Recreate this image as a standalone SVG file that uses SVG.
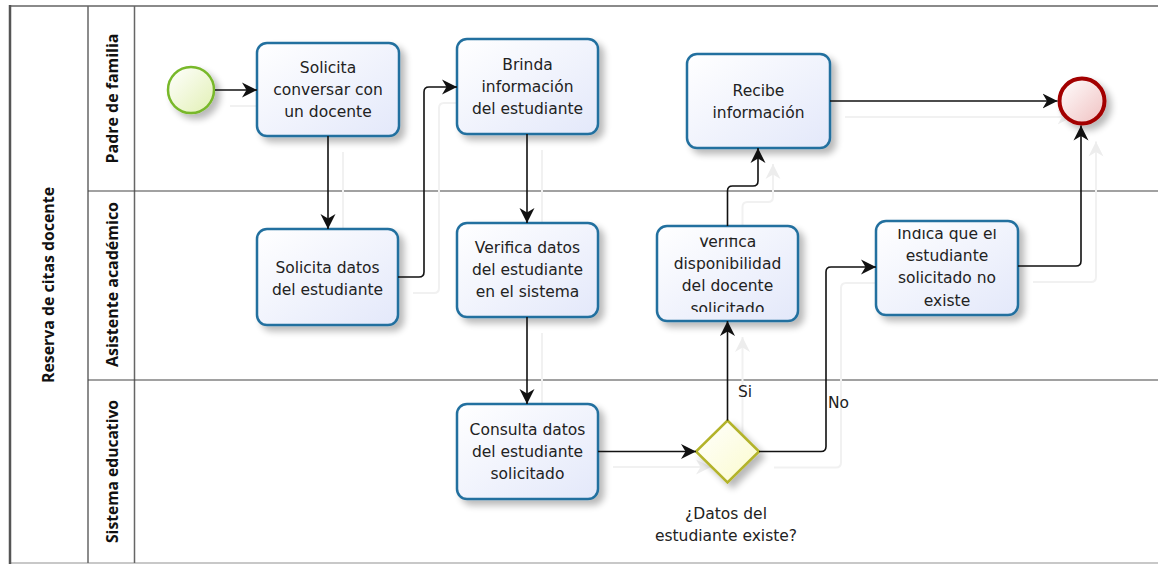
<svg xmlns="http://www.w3.org/2000/svg" width="1158" height="565" viewBox="0 0 1158 565">
  <style>
    .lane-label { font-family: "Open Sans", "DejaVu Sans", sans-serif; font-weight: 700; font-size: 16px; fill: #111; text-anchor: middle; }
    .task-box { fill: url(#taskFill); stroke: #23709f; stroke-width: 2.5; filter: url(#softShadow); }
    .task-text { font-family: "DejaVu Sans", "Open Sans", sans-serif; font-size: 15.5px; fill: #222; text-anchor: middle; }
    .flow { fill: none; stroke: #111; stroke-width: 1.6; marker-end: url(#arrow); }
    .flow-shadow { fill: none; stroke: #f1f1f1; stroke-width: 2; marker-end: url(#arrowShadow); }
    .label { font-family: "DejaVu Sans", "Open Sans", sans-serif; font-size: 15.5px; fill: #222; }
  </style>
  <defs>
    <linearGradient id="taskFill" x1="0" y1="0" x2="1" y2="1">
      <stop offset="0" stop-color="#ffffff"/>
      <stop offset="1" stop-color="#e3e8fa"/>
    </linearGradient>
    <linearGradient id="startFill" x1="0" y1="0" x2="1" y2="1">
      <stop offset="0" stop-color="#ffffff"/>
      <stop offset="1" stop-color="#e2f0b4"/>
    </linearGradient>
    <linearGradient id="endFill" x1="0" y1="0" x2="1" y2="1">
      <stop offset="0" stop-color="#ffffff"/>
      <stop offset="1" stop-color="#f0c0c0"/>
    </linearGradient>
    <linearGradient id="gatewayFill" x1="0" y1="0" x2="1" y2="1">
      <stop offset="0" stop-color="#ffffff"/>
      <stop offset="1" stop-color="#fbfbcc"/>
    </linearGradient>
    <filter id="softShadow" x="-20%" y="-20%" width="150%" height="150%">
      <feGaussianBlur in="SourceAlpha" stdDeviation="3.5"/>
      <feOffset dx="5" dy="5" result="off"/>
      <feComponentTransfer><feFuncA type="linear" slope="0.28"/></feComponentTransfer>
      <feMerge><feMergeNode/><feMergeNode in="SourceGraphic"/></feMerge>
    </filter>
    <marker id="arrow" markerUnits="userSpaceOnUse" markerWidth="18" markerHeight="18" refX="15" refY="0" viewBox="0 -9 18 18" orient="auto">
      <path d="M0,-7.5 L15,0 L0,7.5 L4.5,0 z" fill="#111"/>
    </marker>
    <marker id="arrowShadow" markerUnits="userSpaceOnUse" markerWidth="18" markerHeight="18" refX="15" refY="0" viewBox="0 -9 18 18" orient="auto">
      <path d="M0,-7.5 L15,0 L0,7.5 L4.5,0 z" fill="#ededed"/>
    </marker>
    <clipPath id="clipDisponibilidad"><rect x="657" y="237.5" width="141" height="74.5"/></clipPath>
    <clipPath id="clipNoExiste"><rect x="876" y="229" width="142" height="77"/></clipPath>
  </defs>

  <!-- pool and lanes -->
  <g id="pool">
    <rect x="0" y="0" width="1158" height="565" fill="#ffffff"/>
    <line x1="10" y1="6" x2="1158" y2="6" stroke="#8a8a8a" stroke-width="2"/>
    <line x1="10" y1="563" x2="1158" y2="563" stroke="#c8c8c8" stroke-width="2"/>
    <line x1="10" y1="5" x2="10" y2="564" stroke="#555" stroke-width="2.5"/>
    <line x1="88" y1="6" x2="88" y2="563" stroke="#666" stroke-width="1.5"/>
    <line x1="134.5" y1="6" x2="134.5" y2="563" stroke="#666" stroke-width="1.5"/>
    <line x1="88" y1="191" x2="1158" y2="191" stroke="#444" stroke-width="1.2"/>
    <line x1="88" y1="380" x2="1158" y2="380" stroke="#444" stroke-width="1.2"/>
    <text class="lane-label" transform="translate(53.5,285) rotate(-90)" textLength="196" lengthAdjust="spacingAndGlyphs">Reserva de citas docente</text>
    <text class="lane-label" transform="translate(117.5,98.5) rotate(-90)" textLength="130" lengthAdjust="spacingAndGlyphs">Padre de familia</text>
    <text class="lane-label" transform="translate(117.5,284.5) rotate(-90)" textLength="165" lengthAdjust="spacingAndGlyphs">Asistente académico</text>
    <text class="lane-label" transform="translate(117.5,471.5) rotate(-90)" textLength="143" lengthAdjust="spacingAndGlyphs">Sistema educativo</text>
  </g>

  <!-- faint connector shadows -->
  <g id="connector-shadows" transform="translate(15,16)">
    <path class="flow-shadow" d="M215,90 H257"/>
    <path class="flow-shadow" d="M328,136 V229"/>
    <path class="flow-shadow" d="M398,277 H419 Q424,277 424,272 V92 Q424,87 429,87 H457"/>
    <path class="flow-shadow" d="M527,134 V223"/>
    <path class="flow-shadow" d="M527,317 V404"/>
    <path class="flow-shadow" d="M598,451 H696"/>
    <path class="flow-shadow" d="M727.5,420.5 V321"/>
    <path class="flow-shadow" d="M727.5,226 V191 Q727.5,186 732.5,186 H753 Q758,186 758,181 V148"/>
    <path class="flow-shadow" d="M759,451.5 H821 Q826,451.5 826,446.5 V272 Q826,267 831,267 H876"/>
    <path class="flow-shadow" d="M830,101 H1057.5"/>
    <path class="flow-shadow" d="M1018,266 H1076 Q1081,266 1081,261 V125.5"/>
  </g>

  <!-- events -->
  <g id="start">
    <circle cx="191" cy="90" r="23" fill="url(#startFill)" stroke="#78b82a" stroke-width="2.5" filter="url(#softShadow)"/>
  </g>
  <g id="end">
    <circle cx="1082" cy="101" r="22.5" fill="url(#endFill)" stroke="#a30000" stroke-width="4" filter="url(#softShadow)"/>
  </g>

  <!-- tasks -->
  <g id="task-solicita-conversar">
    <rect class="task-box" x="257" y="43" width="142" height="93" rx="10"/>
    <text class="task-text" x="328" y="73">Solicita</text>
    <text class="task-text" x="328" y="95">conversar con</text>
    <text class="task-text" x="328" y="117">un docente</text>
  </g>
  <g id="task-solicita-datos">
    <rect class="task-box" x="257" y="229" width="141" height="96" rx="10"/>
    <text class="task-text" x="327.5" y="273">Solicita datos</text>
    <text class="task-text" x="327.5" y="295">del estudiante</text>
  </g>
  <g id="task-brinda-informacion">
    <rect class="task-box" x="457" y="39" width="141" height="95" rx="10"/>
    <text class="task-text" x="527.5" y="70">Brinda</text>
    <text class="task-text" x="527.5" y="92">información</text>
    <text class="task-text" x="527.5" y="114">del estudiante</text>
  </g>
  <g id="task-verifica-datos">
    <rect class="task-box" x="457" y="223" width="141" height="94" rx="10"/>
    <text class="task-text" x="527.5" y="253">Verifica datos</text>
    <text class="task-text" x="527.5" y="275">del estudiante</text>
    <text class="task-text" x="527.5" y="297">en el sistema</text>
  </g>
  <g id="task-consulta-datos">
    <rect class="task-box" x="457" y="404" width="141" height="95" rx="10"/>
    <text class="task-text" x="527.5" y="435">Consulta datos</text>
    <text class="task-text" x="527.5" y="457">del estudiante</text>
    <text class="task-text" x="527.5" y="479">solicitado</text>
  </g>
  <g id="task-recibe-informacion">
    <rect class="task-box" x="687" y="54" width="143" height="94" rx="10"/>
    <text class="task-text" x="758.5" y="96">Recibe</text>
    <text class="task-text" x="758.5" y="118">información</text>
  </g>
  <g id="task-verifica-disponibilidad">
    <rect class="task-box" x="657" y="226" width="141" height="95" rx="10"/>
    <g clip-path="url(#clipDisponibilidad)">
      <text class="task-text" x="727.5" y="247">Verifica</text>
      <text class="task-text" x="727.5" y="269">disponibilidad</text>
      <text class="task-text" x="727.5" y="291">del docente</text>
      <text class="task-text" x="727.5" y="314">solicitado</text>
    </g>
  </g>
  <g id="task-indica-no-existe">
    <rect class="task-box" x="876" y="221" width="142" height="94" rx="10"/>
    <g clip-path="url(#clipNoExiste)">
      <text class="task-text" x="947" y="239">Indica que el</text>
      <text class="task-text" x="947" y="261">estudiante</text>
      <text class="task-text" x="947" y="283">solicitado no</text>
      <text class="task-text" x="947" y="306">existe</text>
    </g>
  </g>

  <!-- exclusive gateway -->
  <g id="gateway-datos-existe">
    <polygon points="727.5,420.5 759,451.5 727.5,482.5 696,451.5" fill="url(#gatewayFill)" stroke="#b3b32a" stroke-width="2.5" filter="url(#softShadow)"/>
    <text class="task-text" x="726" y="519">¿Datos del</text>
    <text class="task-text" x="726" y="541">estudiante existe?</text>
  </g>

  <!-- sequence flows -->
  <g id="connectors">
    <path class="flow" d="M215,90 H257"/>
    <path class="flow" d="M328,136 V229"/>
    <path class="flow" d="M398,277 H419 Q424,277 424,272 V92 Q424,87 429,87 H457"/>
    <path class="flow" d="M527,134 V223"/>
    <path class="flow" d="M527,317 V404"/>
    <path class="flow" d="M598,451.5 H696"/>
    <path class="flow" d="M727.5,420.5 V321"/>
    <path class="flow" d="M727.5,226 V191 Q727.5,186 732.5,186 H753 Q758,186 758,181 V148"/>
    <path class="flow" d="M759,451.5 H821 Q826,451.5 826,446.5 V272 Q826,267 831,267 H876"/>
    <path class="flow" d="M830,101 H1057.5"/>
    <path class="flow" d="M1018,266 H1076 Q1081,266 1081,261 V125.5"/>
    <text class="label" x="738" y="397">Si</text>
    <text class="label" x="828" y="408">No</text>
  </g>
</svg>
